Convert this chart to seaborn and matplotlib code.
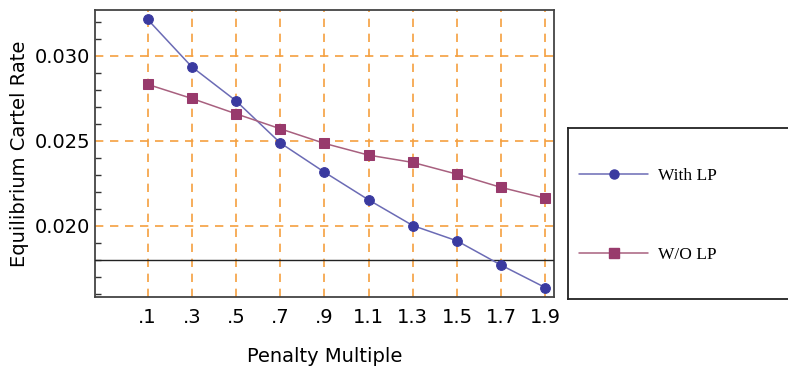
import numpy as np
import pandas as pd
import matplotlib
matplotlib.use("Agg")
import matplotlib.pyplot as plt
from matplotlib.ticker import MultipleLocator
import seaborn as sns

# --- Data ---
penalty = [0.1, 0.3, 0.5, 0.7, 0.9, 1.1, 1.3, 1.5, 1.7, 1.9]
tick_labels = [".1", ".3", ".5", ".7", ".9", "1.1", "1.3", "1.5", "1.7", "1.9"]
with_lp = [0.03214, 0.02935, 0.02735, 0.02488, 0.02316, 0.02153, 0.02002, 0.01912, 0.01769, 0.01637]
without_lp = [0.02832, 0.02749, 0.02659, 0.02571, 0.02485, 0.02416, 0.02373, 0.02304, 0.02226, 0.02162]
series_names = ["With LP", "W/O LP"]
ref_level = 0.018

df = pd.DataFrame({
    "penalty": penalty * 2,
    "rate": with_lp + without_lp,
    "series": [series_names[0]] * len(penalty) + [series_names[1]] * len(penalty),
})

sns.set_style("white")
plt.rcParams["font.family"] = ["DejaVu Sans"]
plt.rcParams["text.color"] = "black"
plt.rcParams["axes.labelcolor"] = "black"
plt.rcParams["xtick.labelcolor"] = "black"
plt.rcParams["ytick.labelcolor"] = "black"

line_colors = {"With LP": "#6b6bb5", "W/O LP": "#a8607f"}
marker_colors = {"With LP": "#3a3aa0", "W/O LP": "#983a6c"}

fig = plt.figure(figsize=(7.88, 3.69), dpi=100)
ax = fig.add_axes([95 / 788, 1 - 297 / 369, (554 - 95) / 788, (297 - 10) / 369])

sns.lineplot(data=df, x="penalty", y="rate", hue="series", style="series",
             markers=["o", "s"], dashes=False, palette=line_colors,
             markersize=7, linewidth=1.1, ax=ax, legend=False)

for line, name in zip(ax.lines, series_names):
    line.set_markerfacecolor(marker_colors[name])
    line.set_markeredgecolor(marker_colors[name])
    line.set_zorder(5)

ax.axhline(ref_level, color="#222222", lw=1.0, zorder=4)

ax.set_xlim(-0.138, 1.939)
ax.set_ylim(0.01582, 0.03269)
ax.set_xticks(penalty)
ax.set_xticklabels(tick_labels)
ax.set_yticks([0.020, 0.025, 0.030])
ax.set_yticklabels(["0.020", "0.025", "0.030"])
ax.yaxis.set_minor_locator(MultipleLocator(0.001))
ax.tick_params(axis="both", which="both", direction="in", labelsize=14,
               color="#333333", top=False, right=False)
ax.tick_params(axis="both", which="major", length=5, width=1)
ax.tick_params(axis="y", which="minor", length=4, width=1, left=True)
ax.tick_params(axis="x", pad=8)

ax.grid(True, which="major", color="#f5a040", linestyle=(0, (5, 4)), linewidth=1.2)
ax.set_axisbelow(True)

for sp in ax.spines.values():
    sp.set_color("#444444")
    sp.set_linewidth(1.3)

ax.set_xlabel("Penalty Multiple", fontsize=14, labelpad=14)
ax.set_ylabel("Equilibrium Cartel Rate", fontsize=14, labelpad=4)

# --- Legend box on the right ---
lax = fig.add_axes([568 / 788, 1 - 299 / 369, (800 - 568) / 788, (299 - 128) / 369])
lax.set_xticks([])
lax.set_yticks([])
for sp in lax.spines.values():
    sp.set_color("#222222")
    sp.set_linewidth(1.3)
handles = []
for name, mk in zip(series_names, ["o", "s"]):
    h, = lax.plot([], [], color=line_colors[name], marker=mk, markersize=6.5,
                  markerfacecolor=marker_colors[name],
                  markeredgecolor=marker_colors[name], lw=1.1)
    handles.append(h)
leg = lax.legend(handles, series_names, loc="center left", bbox_to_anchor=(-0.02, 0.487),
                 frameon=False, handlelength=4.0, labelspacing=3.6, handletextpad=0.55,
                 prop={"family": "Liberation Serif", "size": 12.5})

fig.savefig("out.png", dpi=100)
